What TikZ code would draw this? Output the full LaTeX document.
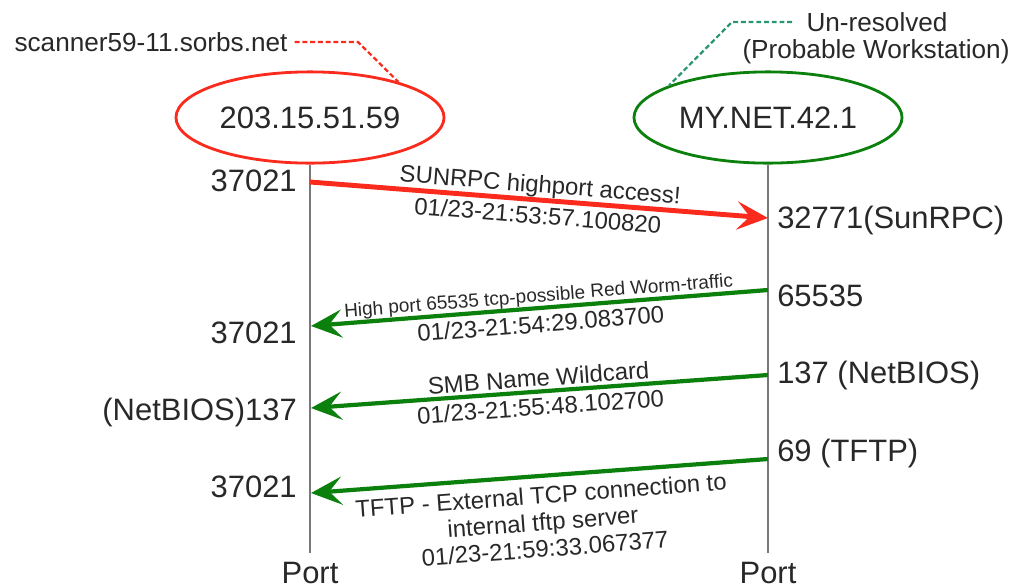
\documentclass[tikz,border=0pt]{standalone}
\usepackage{fontspec}
\setmainfont{Liberation Sans}
\usetikzlibrary{shapes.geometric,arrows.meta,positioning,calc}
\definecolor{alertRed}{RGB}{250,42,28}
\definecolor{flowGreen}{RGB}{12,128,12}
\definecolor{noteTeal}{RGB}{40,150,110}
\definecolor{lineGray}{RGB}{120,120,120}
\definecolor{textGray}{RGB}{40,40,40}

\begin{document}
\begin{tikzpicture}[x=0.025cm, y=-0.025cm,
  every node/.style={text=textGray, inner sep=0pt},
  host/.style={ellipse, line width=2pt, minimum width=6.7cm, minimum height=2.28cm, font=\fontsize{22}{26}\selectfont},
  port/.style={font=\fontsize{22}{26}\selectfont, text height=15.5pt, text depth=0pt},
  note/.style={font=\fontsize{18.6}{22}\selectfont},
  msg/.style={sloped, align=center, font=\fontsize{17}{19}\selectfont},
  notelink/.style={line width=1.6pt, dash pattern=on 3.5pt off 2pt},
  lifeline/.style={lineGray, line width=2pt},
  flow/.style={line width=3pt, -{Stealth[length=22pt, width=20pt, inset=9pt]}}]

  \useasboundingbox (0,0) rectangle (1016,587);

  % Hosts
  \node[host, draw=alertRed] (src) at (310,117.5) {203.15.51.59};
  \node[host, draw=flowGreen] (dst) at (768,117.5) {MY.NET.42.1};
  \node[port, anchor=base] (srcport) at (310,583) {Port};
  \node[port, anchor=base] (dstport) at (768,583) {Port};
  \draw[lifeline] (src) -- ([yshift=6pt]srcport.north);
  \draw[lifeline] (dst) -- ([yshift=6pt]dstport.north);

  % Notes
  \node[note] (srcname) at (151,42) {scanner59-11.sorbs.net};
  \node[note] (unres) at (877,22) {Un-resolved};
  \node[note] (probws) at (876,52) {(Probable Workstation)};
  \coordinate (srcbend) at (358,42);
  \coordinate (dstbend) at (732,22);
  \draw[notelink, alertRed] ([xshift=5pt]srcname.east) -- (srcbend) -- (src.22);
  \draw[notelink, noteTeal] ([xshift=-10pt]unres.west) -- (dstbend) -- (dst.162);

  % Ports
  \node[port, anchor=east] (sp1) at (297,181) {37021};
  \node[port, anchor=east] (sp2) at (297,333) {37021};
  \node[port, anchor=east] (sp3) at (297,410) {(NetBIOS)137};
  \node[port, anchor=east] (sp4) at (297,487) {37021};
  \node[port, anchor=west] (dp1) at (777,218) {32771(SunRPC)};
  \node[port, anchor=west] (dp2) at (777,296) {65535};
  \node[port, anchor=west] (dp3) at (777,373) {137 (NetBIOS)};
  \node[port, anchor=west] (dp4) at (777,451) {69 (TFTP)};

  \coordinate (m1a) at (310,182);
  \coordinate (m1b) at (768,218);
  \coordinate (m2a) at (768,290);
  \coordinate (m2b) at (311,326);
  \coordinate (m3a) at (768,375);
  \coordinate (m3b) at (311,408);
  \coordinate (m4a) at (768,459);
  \coordinate (m4b) at (311,493);

  % Arrows
  \draw[flow, alertRed, line width=3.5pt] (m1a) --
    node[msg, above=0pt] {SUNRPC highport access!}
    node[msg, below=3pt] {01/23-21:53:57.100820} (m1b);
  \draw[flow, flowGreen] (m2a) --
    node[msg, above=0pt, font=\fontsize{13.5}{16}\selectfont] {High port 65535 tcp-possible Red Worm-traffic}
    node[msg, below=3.5pt] {01/23-21:54:29.083700} (m2b);
  \draw[flow, flowGreen] (m3a) --
    node[msg, above=2pt] {SMB Name Wildcard}
    node[msg, below=3pt] {01/23-21:55:48.102700} (m3b);
  \draw[flow, flowGreen] (m4a) --
    node[msg, below=6pt] {TFTP - External TCP connection to\\internal tftp server\\01/23-21:59:33.067377} (m4b);
\end{tikzpicture}
\end{document}
